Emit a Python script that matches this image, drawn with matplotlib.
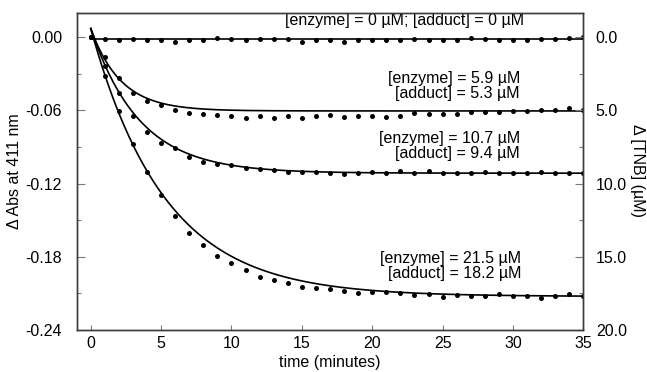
import numpy as np
import matplotlib
matplotlib.use("Agg")
import matplotlib.pyplot as plt
from matplotlib.ticker import FixedLocator, MultipleLocator

plt.rcParams['font.family'] = ['Liberation Sans', 'DejaVu Sans']
plt.rcParams['font.size'] = 11.5

# time points (minutes)
time_min = list(range(36))

# delta Abs at 411 nm
abs_none = [0.000, -0.0016, -0.0022, -0.0016, -0.0025, -0.0025, -0.0038, -0.0022, -0.0025,
            -0.0011, -0.0016, -0.0022, -0.0016, -0.0016, -0.0016, -0.0036, -0.0022, -0.0022,
            -0.0036, -0.0022, -0.0027, -0.0022, -0.0027, -0.0016, -0.0022, -0.0022, -0.0022,
            -0.0011, -0.0016, -0.0022, -0.0027, -0.0027, -0.0016, -0.0016, -0.0011, -0.0003]
abs_5_9 = [0.000, -0.0164, -0.0336, -0.0460, -0.0520, -0.0560, -0.0600, -0.0618, -0.0629,
           -0.0640, -0.0643, -0.0660, -0.0648, -0.0664, -0.0645, -0.0660, -0.0650, -0.0640,
           -0.0656, -0.0643, -0.0648, -0.0654, -0.0650, -0.0623, -0.0629, -0.0629, -0.0629,
           -0.0615, -0.0615, -0.0610, -0.0604, -0.0604, -0.0600, -0.0596, -0.0582, -0.0600]
abs_10_7 = [0.000, -0.0240, -0.0460, -0.0643, -0.0774, -0.0864, -0.0910, -0.0979, -0.1020,
            -0.1039, -0.1050, -0.1074, -0.1082, -0.1088, -0.1102, -0.1102, -0.1104, -0.1110,
            -0.1121, -0.1110, -0.1102, -0.1110, -0.1096, -0.1115, -0.1094, -0.1110, -0.1115,
            -0.1115, -0.1104, -0.1110, -0.1115, -0.1110, -0.1102, -0.1110, -0.1115, -0.1115]
abs_21_5 = [0.000, -0.0317, -0.0602, -0.0877, -0.1107, -0.1293, -0.1465, -0.1602, -0.1703,
            -0.1790, -0.1853, -0.1910, -0.1968, -0.1990, -0.2017, -0.2045, -0.2053, -0.2066,
            -0.2080, -0.2094, -0.2091, -0.2086, -0.2100, -0.2113, -0.2105, -0.2132, -0.2116,
            -0.2124, -0.2120, -0.2108, -0.2120, -0.2120, -0.2134, -0.2120, -0.2102, -0.2120]

# fitted first-order curves, parameters
fit_start = [-0.0015, 0.007, 0.007, 0.007]
fit_plateau = [-0.0015, -0.0605, -0.1115, -0.2125]
fit_rate = [0.5, 0.47, 0.29, 0.19]

series = [abs_none, abs_5_9, abs_10_7, abs_21_5]

labels = ["[enzyme] = 0 \u00b5M; [adduct] = 0 \u00b5M",
          "[enzyme] = 5.9 \u00b5M\n[adduct] = 5.3 \u00b5M",
          "[enzyme] = 10.7 \u00b5M\n[adduct] = 9.4 \u00b5M",
          "[enzyme] = 21.5 \u00b5M\n[adduct] = 18.2 \u00b5M"]

left_ticks = [0.0, -0.06, -0.12, -0.18, -0.24]
left_ticklabels = ["0.00", "-0.06", "-0.12", "-0.18", "-0.24"]
right_ticks = [0, 5, 10, 15, 20]
right_ticklabels = ["0.0", "5.0", "10.0", "15.0", "20.0"]
x_ticks = [0, 5, 10, 15, 20, 25, 30, 35]

abs_per_uM = 0.012  # 0.06 Abs <-> 5.0 uM on the two axes

W, H = 647, 372
fig = plt.figure(figsize=(W / 100, H / 100), dpi=100)
ax = fig.add_axes([76.7 / W, 1 - 330 / H, (583.3 - 76.7) / W, (330 - 12.7) / H])

tt = np.linspace(0, 35, 400)
for i, ys in enumerate(series):
    fit = fit_start[i] + (fit_plateau[i] - fit_start[i]) * (1 - np.exp(-fit_rate[i] * tt))
    ax.plot(tt, fit, color='black', lw=1.2, zorder=2)
    ax.plot(time_min, ys, 'o', color='black', ms=3.6, mec='none', zorder=3)

ax.set_xlim(-1, 35)
ax.set_ylim(-0.24, 0.02)

spine_c = '#3c3c3c'
tick_c = '#7a7a7a'
for s in ax.spines.values():
    s.set_color(spine_c)
    s.set_linewidth(1.0)

ax.xaxis.set_major_locator(FixedLocator(x_ticks))
ax.set_xticklabels([str(v) for v in x_ticks])
ax.yaxis.set_major_locator(FixedLocator(left_ticks))
ax.set_yticklabels(left_ticklabels)
ax.yaxis.set_minor_locator(MultipleLocator(0.03))
ax.tick_params(axis='x', direction='in', length=3.8, width=0.8, color=tick_c, pad=4, top=False)
ax.tick_params(axis='y', which='major', direction='in', length=6, width=0.8, color=tick_c, pad=10.5)
ax.tick_params(axis='y', which='minor', direction='in', length=3, width=0.8, color=tick_c)

ax2 = ax.twinx()
lo, hi = ax.get_ylim()
ax2.set_ylim(-lo / abs_per_uM, -hi / abs_per_uM)
ax2.yaxis.set_major_locator(FixedLocator(right_ticks))
ax2.set_yticklabels(right_ticklabels)
ax2.yaxis.set_minor_locator(MultipleLocator(2.5))
ax2.tick_params(axis='y', which='major', direction='in', length=6, width=0.8, color=tick_c, pad=9)
ax2.tick_params(axis='y', which='minor', direction='in', length=3, width=0.8, color=tick_c)
for s in ax2.spines.values():
    s.set_color(spine_c)
    s.set_linewidth(1.0)

# annotations
ax.text(30.8, 0.0136, labels[0], ha='right', va='center')
ax.text(30.5, -0.0403, labels[1], ha='right', va='center', ma='right', linespacing=1.0)
ax.text(30.5, -0.0891, labels[2], ha='right', va='center', ma='right', linespacing=1.0)
ax.text(30.6, -0.1877, labels[3], ha='right', va='center', ma='right', linespacing=1.0)

fig.text(15 / W, 1 - 171 / H, "\u0394 Abs at 411 nm", rotation=90, ha='center', va='center')
fig.text(638 / W, 1 - 171 / H, "\u0394 [TNB] (\u00b5M)", rotation=270, ha='center', va='center')
fig.text(330 / W, 1 - 362 / H, "time (minutes)", ha='center', va='center')

fig.savefig("out.png", dpi=100)
